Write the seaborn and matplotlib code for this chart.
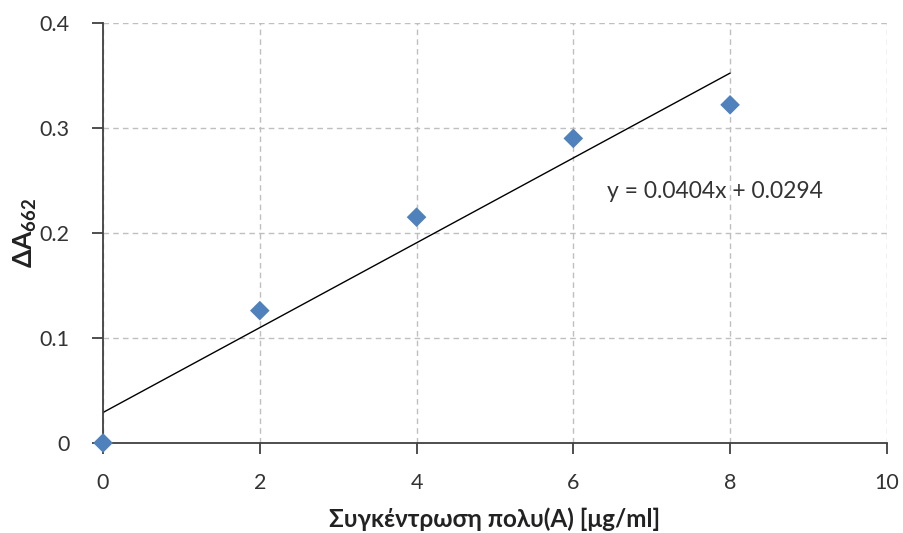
import numpy as np
import pandas as pd
import matplotlib
matplotlib.use("Agg")
import matplotlib.pyplot as plt
import seaborn as sns

conc = [0, 2, 4, 6, 8]
dA662 = [0.0, 0.126, 0.215, 0.290, 0.322]
x_ticks = [0, 2, 4, 6, 8, 10]
y_ticks = [0, 0.1, 0.2, 0.3, 0.4]
y_tick_labels = ["0", "0.1", "0.2", "0.3", "0.4"]
equation = "y = 0.0404x + 0.0294"

sns.set_style("white")
plt.rcParams['font.family'] = ['Lato', 'DejaVu Sans']
plt.rcParams['mathtext.fontset'] = 'custom'
plt.rcParams['mathtext.rm'] = 'Lato'
plt.rcParams['mathtext.bf'] = 'Lato:bold'

df = pd.DataFrame({"x": conc, "y": dA662})
slope, intercept = np.polyfit(conc, dA662, 1)
fit = pd.DataFrame({"x": [min(conc), max(conc)]})
fit["y"] = slope * fit["x"] + intercept

fig = plt.figure(figsize=(9.04, 5.33), dpi=100)
ax = fig.add_axes([0.114, 0.169, 0.867, 0.788])

sns.lineplot(data=fit, x="x", y="y", ax=ax, color="black", linewidth=1.0, zorder=2)
sns.scatterplot(data=df, x="x", y="y", ax=ax, marker="D", s=100, color="#4F81BD",
                edgecolor="none", zorder=4, clip_on=False)

ax.set_xlim(0, 10)
ax.set_ylim(0, 0.4)
ax.set_xticks(x_ticks)
ax.set_xticklabels([str(t) for t in x_ticks])
ax.set_yticks(y_ticks)
ax.set_yticklabels(y_tick_labels)
ax.grid(True, color="#BFBFBF", linestyle=(0, (4, 3)), linewidth=1.0)
ax.set_axisbelow(True)
for s in ["top", "right"]:
    ax.spines[s].set_visible(False)
for s in ["left", "bottom"]:
    ax.spines[s].set_color("#404040")
    ax.spines[s].set_linewidth(1.3)
ax.tick_params(axis="both", direction="out", length=8, width=1.3, color="#404040",
               labelsize=15.5, labelcolor="#333333", bottom=True, left=True)
ax.tick_params(axis="x", pad=14)
ax.tick_params(axis="y", pad=16)

ax.set_xlabel("Συγκέντρωση πολυ(A) [μg/ml]", fontsize=17.5, fontweight="bold", color="#222222", labelpad=10)
ax.set_ylabel(r"$\mathbf{ΔA_{662}}$", fontsize=19, color="#222222")
ax.yaxis.set_label_coords(-0.082, 0.5)

ax.text(6.43, 0.239, equation, fontsize=16.5, color="#333333", va="center", ha="left")

fig.savefig("out.png", dpi=100, facecolor="white")
